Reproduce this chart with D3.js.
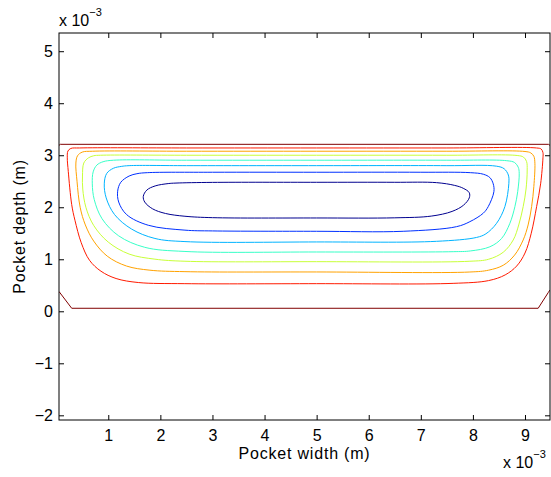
<!DOCTYPE html>
<html>
<head>
<meta charset="utf-8">
<script src="https://cdn.jsdelivr.net/npm/d3@7"></script>
<style>
  html, body { margin: 0; padding: 0; background: #fff; }
  svg { display: block; font-family: "Liberation Sans", Arial, sans-serif; }
</style>
</head>
<body>
<svg id="chart" width="551" height="477"></svg>
<script>
// ---- data (units of 1e-3 m) ----
const xDomain = [0.054, 9.48];
const yDomain = [-2.09, 5.35];
const xTicks = [1, 2, 3, 4, 5, 6, 7, 8, 9];
const xTickLabels = ["1", "2", "3", "4", "5", "6", "7", "8", "9"];
const yTicks = [-2, -1, 0, 1, 2, 3, 4, 5];
const yTickLabels = ["\u22122", "\u22121", "0", "1", "2", "3", "4", "5"];
const xLabel = "Pocket width (m)";
const yLabel = "Pocket depth (m)";

const levelColors = ["#800000", "#ff1a00", "#ffa200", "#c8ff38", "#38ffc8", "#00b4ff", "#0030ff", "#00008f"];

// outer (boundary) contour, two open pieces
const outerTop = [[0.054, 3.19], [0.08, 3.21], [9.45, 3.21], [9.48, 3.19]];
const outerBottom = [[0.054, 0.38], [0.298, 0.058], [9.253, 0.058], [9.445, 0.358], [9.48, 0.41]];

const contourRed = [[0.45,3.14],[2.5,3.14],[5,3.14],[7.5,3.14],[9.22,3.14],[9.31,3.12],[9.345,3.05],[9.345,2.95],[9.30,2.45],[9.223,2.012],[9.12,1.50],[9.00,1.12],[8.84,0.87],[8.62,0.70],[8.30,0.59],[7.62,0.537],[5,0.531],[2.47,0.531],[1.576,0.553],[1.15,0.63],[0.86,0.77],[0.64,0.98],[0.48,1.32],[0.36,1.75],[0.298,2.05],[0.232,2.69],[0.213,2.95],[0.225,3.08],[0.28,3.13]];
const contourOrange = [[0.7,3.077],[2.5,3.077],[5,3.077],[7.5,3.077],[9.0,3.072],[9.11,3.045],[9.17,2.98],[9.19,2.846],[9.17,2.4],[9.127,2.012],[9.06,1.66],[8.965,1.371],[8.80,1.08],[8.582,0.885],[8.30,0.79],[7.942,0.755],[5,0.756],[2.472,0.762],[1.80,0.79],[1.35,0.87],[0.98,1.06],[0.72,1.35],[0.56,1.66],[0.46,2.0],[0.40,2.50],[0.378,2.85],[0.41,2.99],[0.50,3.06]];
const contourYellow = [[0.85,3.0],[2.5,3.0],[5,3.0],[7.5,3.0],[8.85,2.995],[8.97,2.965],[9.03,2.88],[9.042,2.717],[9.02,2.35],[8.965,2.012],[8.88,1.66],[8.774,1.371],[8.582,1.135],[8.30,1.0],[7.942,0.962],[5,0.954],[2.472,0.962],[1.896,1.002],[1.40,1.10],[1.00,1.33],[0.72,1.65],[0.57,2.00],[0.51,2.35],[0.505,2.60],[0.53,2.85],[0.62,2.95],[0.72,2.99]];
const contourCyan = [[1.1,2.904],[2.5,2.904],[5,2.904],[7.5,2.904],[8.65,2.895],[8.80,2.86],[8.87,2.77],[8.889,2.654],[8.86,2.30],[8.806,2.012],[8.71,1.692],[8.551,1.40],[8.326,1.24],[7.95,1.16],[7.622,1.146],[5,1.14],[2.472,1.150],[1.70,1.23],[1.20,1.45],[0.88,1.78],[0.73,2.15],[0.693,2.45],[0.71,2.68],[0.78,2.81],[0.90,2.875]];
const contourLightBlue = [[1.4,2.8],[2.5,2.8],[5,2.8],[7.5,2.8],[8.45,2.79],[8.60,2.74],[8.68,2.62],[8.69,2.46],[8.614,2.012],[8.455,1.692],[8.25,1.49],[8.071,1.42],[7.30,1.345],[5,1.333],[2.472,1.340],[1.896,1.40],[1.449,1.58],[1.12,1.86],[0.96,2.18],[0.923,2.45],[0.97,2.65],[1.10,2.75],[1.25,2.785]];
const contourBlue = [[1.75,2.665],[3,2.673],[5,2.673],[7.0,2.673],[7.95,2.665],[8.2,2.635],[8.326,2.57],[8.39,2.45],[8.403,2.30],[8.294,2.012],[8.198,1.885],[7.942,1.723],[7.687,1.627],[6.662,1.538],[5,1.538],[3,1.545],[2.472,1.56],[1.768,1.654],[1.353,1.858],[1.20,2.10],[1.18,2.308],[1.24,2.48],[1.40,2.60],[1.55,2.645]];
const contourDarkBlue = [[2.3,2.465],[3,2.478],[5,2.48],[6.5,2.48],[7.303,2.473],[7.65,2.42],[7.814,2.365],[7.93,2.28],[7.93,2.18],[7.82,2.04],[7.60,1.92],[7.20,1.83],[6.5,1.797],[5,1.794],[3,1.80],[2.472,1.827],[2.10,1.88],[1.85,1.97],[1.70,2.10],[1.672,2.208],[1.74,2.33],[1.90,2.41],[2.15,2.455]];

const closedContours = [contourRed, contourOrange, contourYellow, contourCyan, contourLightBlue, contourBlue, contourDarkBlue];

// ---- layout ----
const svg = d3.select("#chart");
const L = 59, R = 550, T = 33, B = 420;
const x = d3.scaleLinear().domain(xDomain).range([L, R]);
const y = d3.scaleLinear().domain(yDomain).range([B, T]);

svg.append("defs").append("clipPath").attr("id", "clip")
  .append("rect").attr("x", L).attr("y", T).attr("width", R - L).attr("height", B - T);

const plot = svg.append("g").attr("clip-path", "url(#clip)");

const openLine = d3.line().x(d => x(d[0])).y(d => y(d[1]));
const closedLine = d3.line().x(d => x(d[0])).y(d => y(d[1])).curve(d3.curveCatmullRomClosed.alpha(0.5));

[outerTop, outerBottom].forEach(pts => {
  plot.append("path").attr("d", openLine(pts))
    .attr("fill", "none").attr("stroke", levelColors[0]).attr("stroke-width", 1);
});
closedContours.forEach((pts, i) => {
  plot.append("path").attr("d", closedLine(pts))
    .attr("fill", "none").attr("stroke", levelColors[i + 1]).attr("stroke-width", 1);
});

// ---- axes (MATLAB style: box, ticks inside) ----
const fs = 16;
const axB = d3.axisBottom(x).tickValues(xTicks).tickFormat((d, i) => xTickLabels[i])
  .tickSizeInner(-5).tickSizeOuter(0).tickPadding(10);
const axT = d3.axisTop(x).tickValues(xTicks).tickFormat("")
  .tickSizeInner(-5).tickSizeOuter(0);
const axL = d3.axisLeft(y).tickValues(yTicks).tickFormat((d, i) => yTickLabels[i])
  .tickSizeInner(-5).tickSizeOuter(0).tickPadding(6);
const axR = d3.axisRight(y).tickValues(yTicks).tickFormat("")
  .tickSizeInner(-5).tickSizeOuter(0);

function styleAxis(g) {
  g.select(".domain").remove();
  g.selectAll(".tick line").attr("stroke", "#000").attr("stroke-width", 1);
  g.selectAll(".tick text").attr("fill", "#000").style("font-size", fs + "px")
    .style("font-family", "'Liberation Sans', Arial, sans-serif");
}
svg.append("g").attr("transform", `translate(0,${B})`).call(axB).call(styleAxis);
svg.append("g").attr("transform", `translate(0,${T})`).call(axT).call(styleAxis);
svg.append("g").attr("transform", `translate(${L},0)`).call(axL).call(styleAxis);
svg.append("g").attr("transform", `translate(${R},0)`).call(axR).call(styleAxis);

svg.append("rect").attr("x", L).attr("y", T).attr("width", R - L).attr("height", B - T)
  .attr("fill", "none").attr("stroke", "#000").attr("stroke-width", 1);

// axis labels
svg.append("text").attr("x", (L + R) / 2).attr("y", 459).attr("text-anchor", "middle")
  .style("font-size", fs + "px").style("letter-spacing", "0.8px").text(xLabel);
svg.append("text").attr("transform", `translate(25,${(T + B) / 2}) rotate(-90)`)
  .attr("text-anchor", "middle").style("font-size", fs + "px").style("letter-spacing", "0.8px").text(yLabel);

// exponent labels
function expLabel(xp, yp) {
  const t = svg.append("text").attr("x", xp).attr("y", yp).style("font-size", fs + "px");
  t.append("tspan").text("x 10");
  t.append("tspan").attr("dy", -10).style("font-size", "11px").text("\u22123");
}
expLabel(59, 26);
expLabel(503, 468);
</script>
</body>
</html>
